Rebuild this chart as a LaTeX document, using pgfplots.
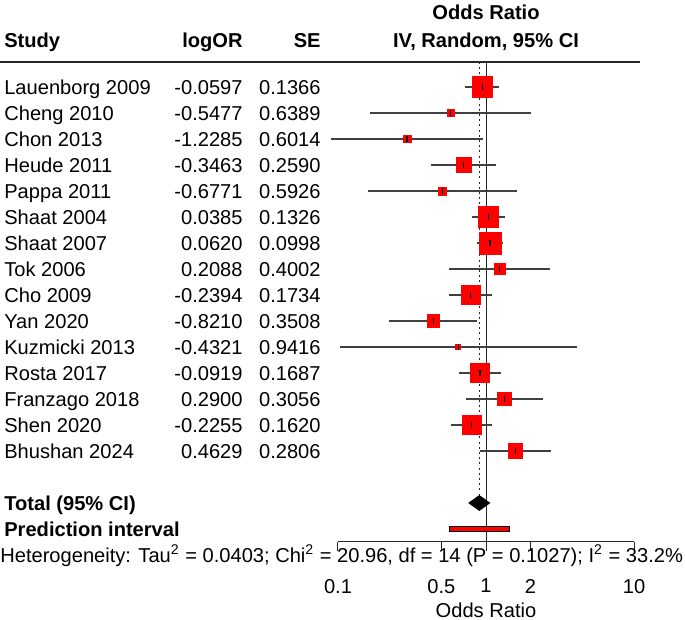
\documentclass[border=0pt]{standalone}
\usepackage{fontspec}
\setmainfont{Liberation Sans}
\usepackage{pgfplots}
\pgfplotsset{compat=1.18}
\usepackage{pgfplotstable}

\pgfplotstableread[col sep=comma]{
row,lor,se,w
1,-0.0597,0.1366,11.90
2,-0.5477,0.6389,1.56
3,-1.2285,0.6014,1.75
4,-0.3463,0.2590,6.53
5,-0.6771,0.5926,1.79
6,0.0385,0.1326,12.12
7,0.0620,0.0998,13.96
8,0.2088,0.4002,3.50
9,-0.2394,0.1734,9.97
10,-0.8210,0.3508,4.29
11,-0.4321,0.9416,0.76
12,-0.0919,0.1687,10.20
13,0.2900,0.3056,5.25
14,-0.2255,0.1620,10.54
15,0.4629,0.2806,5.89
}\studies

\begin{document}
\fontsize{10.05}{12}\selectfont
\begin{tikzpicture}[txt/.style={inner sep=0pt, text height=7.2pt, text depth=0pt}]
\useasboundingbox (0,0) rectangle (342.5pt,310pt);
\begin{axis}[
  at={(169pt,39pt)}, anchor=south west,
  scale only axis, width=148pt, height=240pt,
  xmin=-2.302585, xmax=2.302585,
  ymin=-18.5, ymax=-0.04,
  clip=false,
  axis x line*=bottom, axis y line=none,
  ytick=\empty,
  xtick={-2.302585,-0.693147,0,0.693147,2.302585},
  xticklabels={0.1,0.5,1,2,10},
  tick align=outside, major tick length=4.5pt,
  x axis line style={black!85, line width=0.5pt},
  every tick/.style={black!85, line width=0.5pt},
  xticklabel style={yshift=-10.5pt},
  xlabel={Odds Ratio},
  xlabel style={at={(axis description cs:0.5,0)}, anchor=center, yshift=-34pt},
  /pgf/number format/assume math mode=true,
]
% reference lines
\addplot[black!85, line width=0.5pt] coordinates {(0,-0.04) (0,-18.5)};
\addplot[black!85, line width=0.6pt, dash pattern=on 1pt off 1.6pt] coordinates {(-0.1043,-0.04) (-0.1043,-16.71)};
% header rule
\draw[black!85, line width=0.9pt] (axis cs:-7.562,-0.04) -- (axis cs:2.396,-0.04);
% squares
\addplot[scatter, only marks, mark=square*,
  scatter/use mapped color={draw=red, fill=red},
  visualization depends on={1.4715*sqrt(\thisrow{w}) \as \msz},
  scatter/@pre marker code/.append style={/tikz/mark size=\msz pt, /tikz/line width=0pt}]
  table[x=lor, y expr=-\thisrow{row}, meta=w] {\studies};
% confidence intervals
\addplot[draw=none, mark=none,
  error bars/.cd, x dir=both, x explicit, error mark=none,
  error bar style={draw=black!75, solid, line width=0.6pt}]
  table[x=lor, y expr=-\thisrow{row}, x error expr=1.96*\thisrow{se}] {\studies};
% point estimates
\addplot[only marks, mark=|, mark size=1.5pt, mark options={black, line width=0.6pt}]
  table[x=lor, y expr=-\thisrow{row}] {\studies};
% pooled diamond
\addplot[fill=black, draw=black, line width=0.3pt] coordinates {(-0.2683,-17) (-0.1043,-16.71) (0.0597,-17) (-0.1043,-17.29)} -- cycle;
% prediction interval
\addplot[fill=red, draw=black, line width=0.4pt] coordinates {(-0.574,-17.9) (0.3655,-17.9) (0.3655,-18.1) (-0.574,-18.1)} -- cycle;

% headers
\node[txt, anchor=west] at (axis cs:-7.50,0.808) {\textbf{Study}};
\node[txt, anchor=east] at (axis cs:-3.781,0.808) {\textbf{logOR}};
\node[txt, anchor=east] at (axis cs:-2.567,0.808) {\textbf{SE}};
\node[txt, anchor=center] at (axis cs:0,1.885) {\textbf{Odds Ratio}};
\node[txt, anchor=center] at (axis cs:0,0.808) {\textbf{IV, Random, 95\% CI}};

% study rows
\node[txt, anchor=west] at (axis cs:-7.50,-1) {Lauenborg 2009};
\node[txt, anchor=west] at (axis cs:-7.50,-2) {Cheng 2010};
\node[txt, anchor=west] at (axis cs:-7.50,-3) {Chon 2013};
\node[txt, anchor=west] at (axis cs:-7.50,-4) {Heude 2011};
\node[txt, anchor=west] at (axis cs:-7.50,-5) {Pappa 2011};
\node[txt, anchor=west] at (axis cs:-7.50,-6) {Shaat 2004};
\node[txt, anchor=west] at (axis cs:-7.50,-7) {Shaat 2007};
\node[txt, anchor=west] at (axis cs:-7.50,-8) {Tok 2006};
\node[txt, anchor=west] at (axis cs:-7.50,-9) {Cho 2009};
\node[txt, anchor=west] at (axis cs:-7.50,-10) {Yan 2020};
\node[txt, anchor=west] at (axis cs:-7.50,-11) {Kuzmicki 2013};
\node[txt, anchor=west] at (axis cs:-7.50,-12) {Rosta 2017};
\node[txt, anchor=west] at (axis cs:-7.50,-13) {Franzago 2018};
\node[txt, anchor=west] at (axis cs:-7.50,-14) {Shen 2020};
\node[txt, anchor=west] at (axis cs:-7.50,-15) {Bhushan 2024};

\node[txt, anchor=east] at (axis cs:-3.781,-1) {-0.0597};
\node[txt, anchor=east] at (axis cs:-3.781,-2) {-0.5477};
\node[txt, anchor=east] at (axis cs:-3.781,-3) {-1.2285};
\node[txt, anchor=east] at (axis cs:-3.781,-4) {-0.3463};
\node[txt, anchor=east] at (axis cs:-3.781,-5) {-0.6771};
\node[txt, anchor=east] at (axis cs:-3.781,-6) {0.0385};
\node[txt, anchor=east] at (axis cs:-3.781,-7) {0.0620};
\node[txt, anchor=east] at (axis cs:-3.781,-8) {0.2088};
\node[txt, anchor=east] at (axis cs:-3.781,-9) {-0.2394};
\node[txt, anchor=east] at (axis cs:-3.781,-10) {-0.8210};
\node[txt, anchor=east] at (axis cs:-3.781,-11) {-0.4321};
\node[txt, anchor=east] at (axis cs:-3.781,-12) {-0.0919};
\node[txt, anchor=east] at (axis cs:-3.781,-13) {0.2900};
\node[txt, anchor=east] at (axis cs:-3.781,-14) {-0.2255};
\node[txt, anchor=east] at (axis cs:-3.781,-15) {0.4629};

\node[txt, anchor=east] at (axis cs:-2.567,-1) {0.1366};
\node[txt, anchor=east] at (axis cs:-2.567,-2) {0.6389};
\node[txt, anchor=east] at (axis cs:-2.567,-3) {0.6014};
\node[txt, anchor=east] at (axis cs:-2.567,-4) {0.2590};
\node[txt, anchor=east] at (axis cs:-2.567,-5) {0.5926};
\node[txt, anchor=east] at (axis cs:-2.567,-6) {0.1326};
\node[txt, anchor=east] at (axis cs:-2.567,-7) {0.0998};
\node[txt, anchor=east] at (axis cs:-2.567,-8) {0.4002};
\node[txt, anchor=east] at (axis cs:-2.567,-9) {0.1734};
\node[txt, anchor=east] at (axis cs:-2.567,-10) {0.3508};
\node[txt, anchor=east] at (axis cs:-2.567,-11) {0.9416};
\node[txt, anchor=east] at (axis cs:-2.567,-12) {0.1687};
\node[txt, anchor=east] at (axis cs:-2.567,-13) {0.3056};
\node[txt, anchor=east] at (axis cs:-2.567,-14) {0.1620};
\node[txt, anchor=east] at (axis cs:-2.567,-15) {0.2806};

\node[txt, anchor=west] at (axis cs:-7.50,-17) {\textbf{Total (95\% CI)}};
\node[txt, anchor=west] at (axis cs:-7.50,-18) {\textbf{Prediction interval}};
\node[txt, anchor=west] at (axis cs:-7.562,-19.0) {Heterogeneity: Tau\textsuperscript{2} = 0.0403; Chi\textsuperscript{2} = 20.96, df = 14 (P = 0.1027); I\textsuperscript{2} = 33.2\%};
\end{axis}
\end{tikzpicture}
\end{document}
